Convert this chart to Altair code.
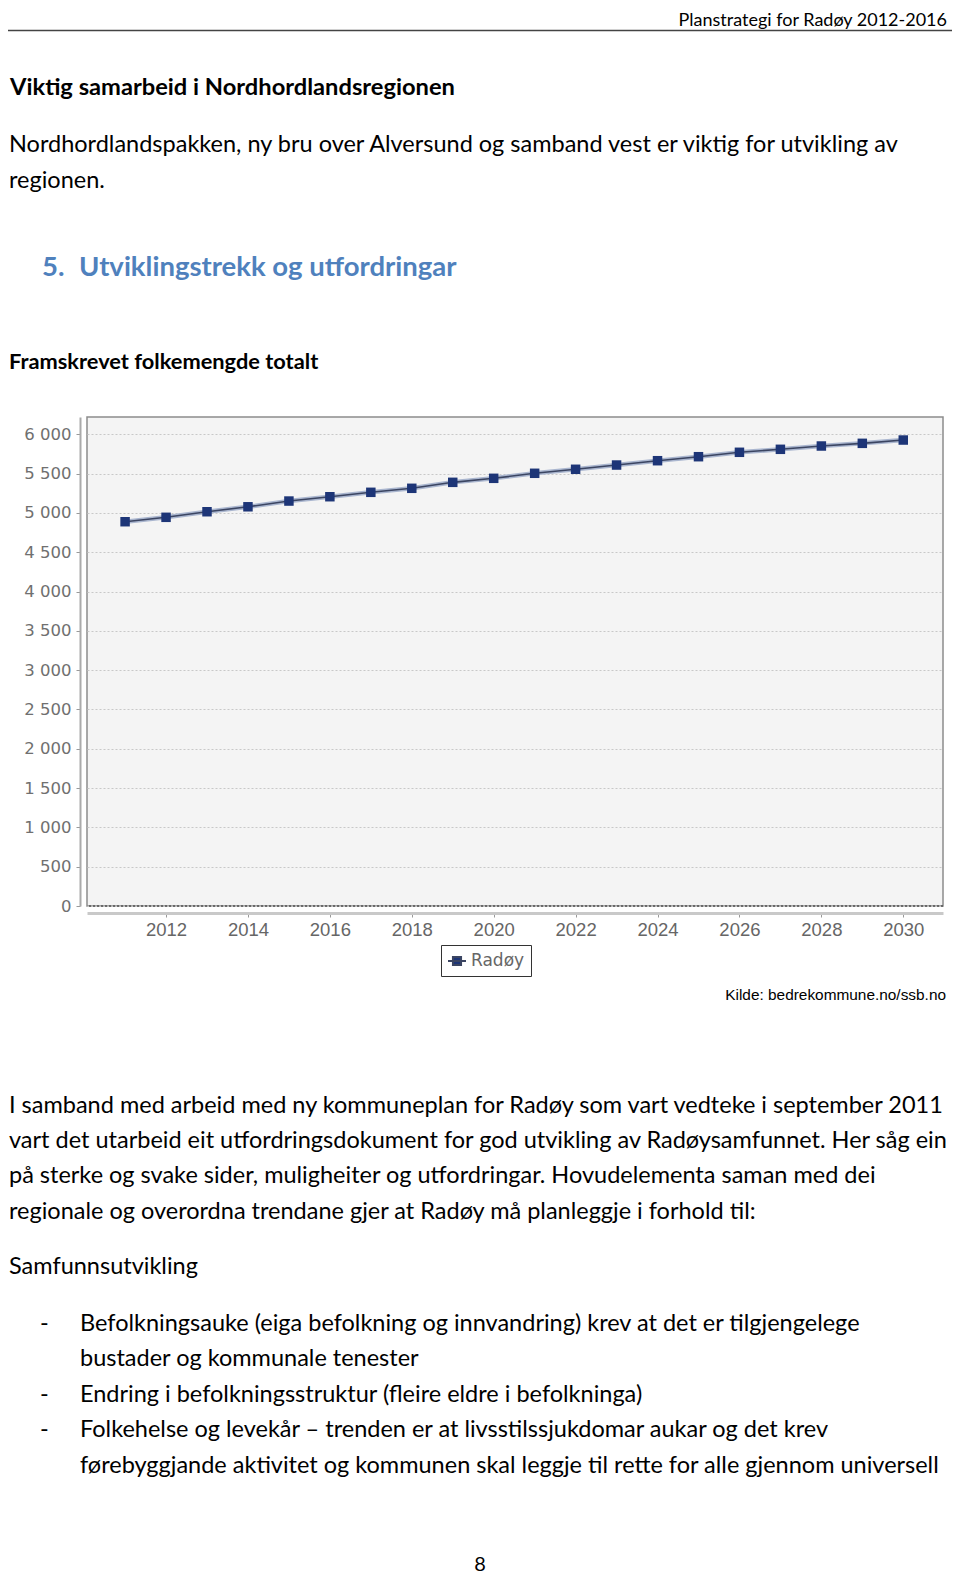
import altair as alt
import pandas as pd

# ---------------- data ----------------
years = list(range(2011, 2031))
population = [4888, 4944, 5015, 5078, 5151, 5206, 5262, 5313, 5389, 5440,
              5504, 5555, 5609, 5664, 5715, 5771, 5809, 5851, 5885, 5927]
series_name = "Radøy"
y_ticks = list(range(0, 6001, 500))
x_ticks = list(range(2012, 2031, 2))

header_text = "Planstrategi for Radøy 2012-2016"
section_title = "Viktig samarbeid i Nordhordlandsregionen"
intro_lines = [
    "Nordhordlandspakken, ny bru over Alversund og samband vest er viktig for utvikling av",
    "regionen.",
]
chapter_no = "5."
chapter_title = "Utviklingstrekk og utfordringar"
chart_title = "Framskrevet folkemengde totalt"
source_text = "Kilde: bedrekommune.no/ssb.no"
para_lines = [
    "I samband med arbeid med ny kommuneplan for Radøy som vart vedteke i september 2011",
    "vart det utarbeid eit utfordringsdokument for god utvikling av Radøysamfunnet. Her såg ein",
    "på sterke og svake sider, muligheiter og utfordringar. Hovudelementa saman med dei",
    "regionale og overordna trendane gjer at Radøy må planleggje i forhold til:",
]
subhead = "Samfunnsutvikling"
bullet_lines = [
    ("-", "Befolkningsauke (eiga befolkning og innvandring) krev at det er tilgjengelege"),
    ("", "bustader og kommunale tenester"),
    ("-", "Endring i befolkningsstruktur (fleire eldre i befolkninga)"),
    ("-", "Folkehelse og levekår – trenden er at livsstilssjukdomar aukar og det krev"),
    ("", "førebyggjande aktivitet og kommunen skal leggje til rette for alle gjennom universell"),
]
page_no = "8"

# ---------------- layout ----------------
OX, OY = 87, 417          # page position of plot origin
W, H = 856, 489
PAD_L = OX - 8
PAD_T = OY - 8
PAD_R = 944 - PAD_L - W
PAD_B = 1569 - PAD_T - H

BODY = "Lato"
BODY_SIZE = 23.5
LEFT = 9


def txt(s, px, py, size, weight="normal", color="#000000", align="left", font=BODY,
        baseline="middle"):
    return alt.Chart(pd.DataFrame({"t": [s]})).mark_text(
        align=align, baseline=baseline, fontSize=size, fontWeight=weight,
        color=color, font=font
    ).encode(x=alt.value(px - OX), y=alt.value(py - OY), text="t:N")


df = pd.DataFrame({"year": years, "pop": population, "serie": [series_name] * len(years)})

xscale = alt.Scale(domain=[2010.07, 2030.97], nice=False, zero=False)
yscale = alt.Scale(domain=[0, 6220], nice=False)

xaxis = alt.Axis(title=None, values=x_ticks, format="d", grid=False, offset=7,
                 domainColor="#c9c9c9", domainWidth=3, tickColor="#999999", tickSize=4,
                 labelFont="Liberation Sans", labelFontSize=18.5, labelColor="#666666",
                 labelPadding=3, labelFlush=False)
yaxis = alt.Axis(title=None, values=y_ticks,
                 labelExpr="replace(format(datum.value, ','), ',', ' ')",
                 offset=7, domainColor="#aaaaaa", domainWidth=2, tickColor="#999999",
                 tickSize=4, labelFont="DejaVu Sans", labelFontSize=16.5, labelColor="#707070",
                 labelPadding=5, grid=True, gridColor="#c8c8c8", gridDash=[2, 2], gridWidth=1)

X = alt.X("year:Q", scale=xscale, axis=xaxis)
Y = alt.Y("pop:Q", scale=yscale, axis=yaxis)

base = alt.Chart(df)
halo = base.mark_line(color="#aab6cf", strokeWidth=4.5).encode(x=X, y=Y)
line = base.mark_line(color="#3b4562", strokeWidth=1.6).encode(x=X, y=Y)

legend_path = "M-1,0L1,0M-0.45,-0.45L0.45,-0.45L0.45,0.45L-0.45,0.45Z"
pts = base.mark_point(shape="square", filled=True, size=90, opacity=1).encode(
    x=X, y=Y,
    color=alt.Color("serie:N", scale=alt.Scale(range=["#1d3577"]),
                    legend=alt.Legend(title=None, orient="none", legendX=354, legendY=528,
                                      padding=6, strokeColor="#333333", fillColor="#ffffff",
                                      symbolType=legend_path, symbolSize=324,
                                      symbolStrokeWidth=2, symbolStrokeColor="#3b4562",
                                      labelFont="DejaVu Sans", labelFontSize=17,
                                      labelColor="#666666", labelOffset=4, symbolOpacity=1))
)

zero_rule = alt.Chart(pd.DataFrame({"v": [0]})).mark_rule(
    color="#555555", strokeDash=[2, 2], strokeWidth=1.5
).encode(y=alt.Y("v:Q", scale=yscale, axis=yaxis))

header_rule = alt.Chart(pd.DataFrame({"a": [0]})).mark_rule(
    color="#444444", strokeWidth=1.5
).encode(x=alt.value(-PAD_L), x2=alt.value(W + PAD_R), y=alt.value(30.5 - OY))

layers = [zero_rule, halo, line, pts, header_rule]
layers.append(txt(header_text, 947, 26, 18, align="right", baseline="alphabetic"))
layers.append(txt(section_title, 10, 88, 23.7, weight="bold"))
for i, s in enumerate(intro_lines):
    layers.append(txt(s, LEFT, 144.5 + i * 36.5, BODY_SIZE))
layers.append(txt(chapter_no, 42, 268, 27.5, weight="bold", color="#4F81BD"))
layers.append(txt(chapter_title, 79, 268, 27.5, weight="bold", color="#4F81BD"))
layers.append(txt(chart_title, LEFT, 362, 21.8, weight="bold"))
layers.append(txt(source_text, 946, 995, 15.4, align="right", font="Liberation Sans"))
for i, s in enumerate(para_lines):
    layers.append(txt(s, LEFT, 1105.5 + i * 35.4, BODY_SIZE))
layers.append(txt(subhead, LEFT, 1267, BODY_SIZE))
for i, (d, s) in enumerate(bullet_lines):
    yy = 1324 + i * 35.4
    if d:
        layers.append(txt(d, 40, yy, BODY_SIZE))
    layers.append(txt(s, 80, yy, BODY_SIZE))
layers.append(txt(page_no, 480, 1565, 20, align="center"))

chart = alt.layer(*layers).properties(
    width=W, height=H,
    padding={"left": PAD_L, "top": PAD_T, "right": PAD_R, "bottom": PAD_B},
    autosize=alt.AutoSizeParams(type="none"),
    background="#ffffff",
).configure_view(fill="#F4F4F4", stroke="#8c8c8c", strokeWidth=1.5)

chart.save("out.html", embed_options={"renderer": "svg", "actions": False})
